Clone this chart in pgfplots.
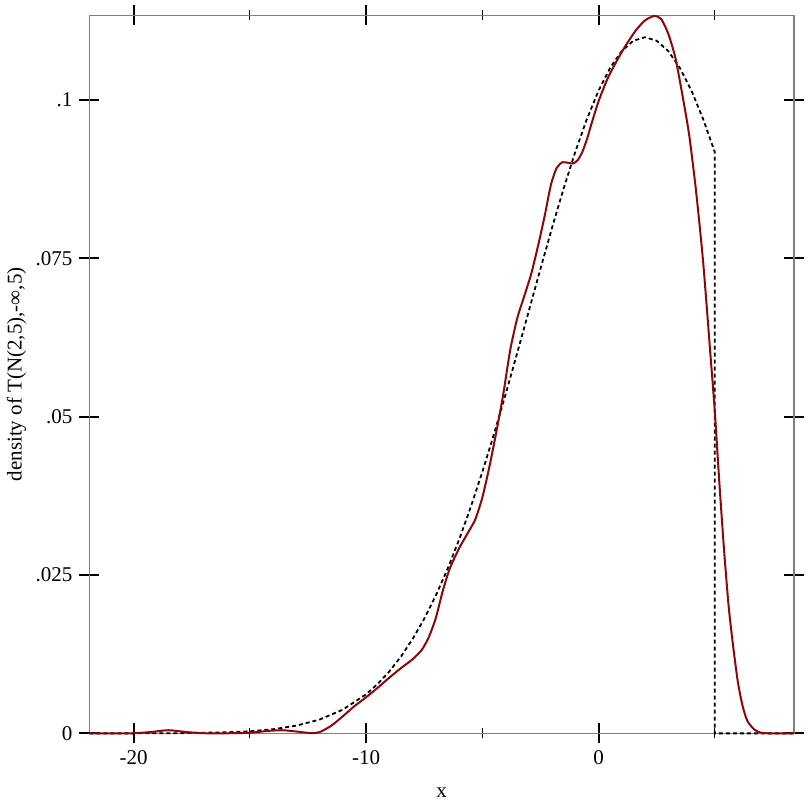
\documentclass[border=0pt]{standalone}
\usepackage{fontspec}
\setmainfont{Liberation Serif}
\usepackage{pgfplots}
\pgfplotsset{compat=1.18}
\definecolor{kdered}{RGB}{140,8,8}
\begin{document}
\begin{tikzpicture}[font=\fontsize{10.5}{12.6}\selectfont]
  \begin{axis}[
      scale only axis,
      width=352.3pt, height=359pt,
      xmin=-21.90, xmax=8.41,
      ymin=0, ymax=0.11339,
      axis line style={gray, line width=0.8pt},
      tick align=center,
      major tick length=10pt,
      minor tick length=5pt,
      every major tick/.style={black, line width=1pt},
      every minor tick/.style={black, line width=0.5pt},
      xtick={-20,-10,0},
      xticklabels={-20,-10,0},
      minor xtick={-15,-5,5},
      ytick={0,0.025,0.05,0.075,0.1},
      yticklabels={0,.025,.05,.075,.1},
      xlabel={x},
      ylabel={density of T(N(2,5),-∞,5)},
      xlabel style={at={(axis description cs:0.5,0)}, anchor=base,
        inner sep=0pt, yshift=-32pt},
      ylabel style={at={(axis description cs:0,0.5)}, anchor=north,
        inner sep=0pt, yshift=41.5pt},
      label style={font=\fontsize{10.5}{12.6}\selectfont},
      tick label style={font=\fontsize{10.5}{12.6}\selectfont},
      clip=false,
    ]
    % truncated normal density (dashed)
    \addplot[black, line width=0.9pt, dash pattern=on 2pt off 1.5pt] coordinates {
      (-21.9,0.000001) (-20,0.000007) (-18,0.000037) (-16,0.000169) (-15,0.000340)
      (-14,0.000657) (-13,0.001222) (-12,0.002182) (-11,0.003744) (-10,0.006171)
      (-9.5,0.007806) (-9,0.009776) (-8.5,0.012121) (-8,0.014879) (-7.5,0.018083)
      (-7,0.021757) (-6.5,0.025918) (-6,0.030568) (-5.5,0.035692) (-5,0.041262)
      (-4.5,0.047226) (-4,0.053513) (-3.5,0.060035) (-3,0.066682) (-2.5,0.073328)
      (-2,0.079833) (-1.5,0.086050) (-1,0.091830) (-0.5,0.097022) (0,0.101488)
      (0.5,0.105103) (1,0.107763) (1.5,0.109391) (2,0.109940) (2.5,0.109391)
      (3,0.107763) (3.5,0.105103) (4,0.101488) (4.5,0.097022) (5,0.091830)
      (5,0) (8.41,0)
    };
    % kernel density estimate (solid dark red)
    \addplot[kdered, line width=1pt, smooth, tension=0.4] coordinates {
      (-21.9,0) (-20.5,0) (-20,0.00002) (-19.3,0.0002) (-18.5,0.0005) (-17.7,0.0002)
      (-17,0.00003) (-16,0.00002) (-15,0.0001) (-14.2,0.0004) (-13.6,0.0005)
      (-13,0.0003) (-12.4,0.00005) (-12,0.0002) (-11.5,0.0012) (-11,0.0027)
      (-10.5,0.0043) (-10,0.0057) (-9.5,0.0072) (-9,0.0088) (-8.5,0.0103)
      (-8,0.0117) (-7.6,0.0132) (-7.3,0.0152) (-7.0,0.0182) (-6.7,0.0225)
      (-6.4,0.0260) (-6.0,0.0292) (-5.6,0.0318) (-5.3,0.0338) (-5.0,0.0372)
      (-4.7,0.0420) (-4.4,0.0475) (-4.1,0.0535) (-3.8,0.0605) (-3.5,0.0655)
      (-3.2,0.0690) (-2.9,0.0725) (-2.6,0.0770) (-2.3,0.0820) (-2.05,0.0866)
      (-1.8,0.0893) (-1.55,0.0902) (-1.3,0.0901) (-1.1,0.0900) (-0.9,0.0905)
      (-0.7,0.0918) (-0.5,0.0938) (-0.3,0.0963) (0,0.0998) (0.4,0.1035)
      (0.8,0.1063) (1.2,0.1088) (1.6,0.1110) (2.0,0.1126) (2.4,0.1133)
      (2.7,0.1128) (3.0,0.1105) (3.3,0.1068) (3.6,0.1010) (3.9,0.0945)
      (4.2,0.0855) (4.5,0.0745) (4.8,0.0605) (5.0,0.0510) (5.2,0.0395)
      (5.4,0.0290) (5.6,0.0200) (5.8,0.0135) (6.0,0.0080) (6.2,0.0043)
      (6.4,0.0020) (6.7,0.0006) (7.0,0.0001) (7.5,0) (8.41,0)
    };
  \end{axis}
  \path ([shift={(-44.7pt,-39.3pt)}]current axis.south west)
    rectangle ([shift={(9pt,7.7pt)}]current axis.north east);
\end{tikzpicture}
\end{document}
